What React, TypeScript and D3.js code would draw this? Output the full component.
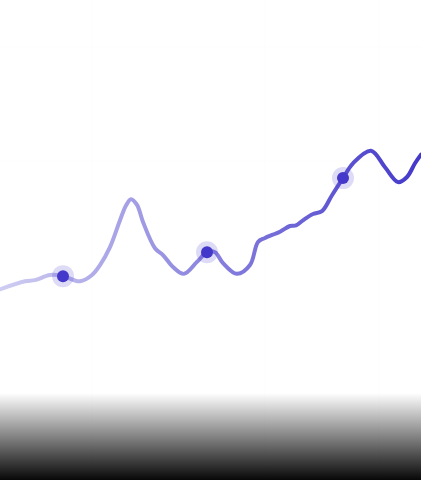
import { useMemo } from "react";
import * as d3 from "d3";

const WIDTH = 421;
const HEIGHT = 480;

// x in time units, y in value units
const times = [
  0, 2.5, 3.5, 5.0, 6.3, 8.0, 9.2, 10.0, 11.0, 12.0, 12.6, 13.1, 13.7, 14.3,
  15.5, 16.3, 17.3, 18.4, 19.7, 20.7, 21.5, 22.3, 23.7, 25.0, 25.8, 26.5,
  28.0, 29.0, 29.6, 30.3, 31.3, 32.2, 33.2, 34.3, 35.3, 37.1, 38.5, 39.8,
  40.7, 41.5, 42.1,
];
const values = [
  57.5, 58.9, 59.1, 60.0, 59.8, 58.9, 60.0, 61.75, 64.9, 69.6, 72.2, 73.3,
  72.3, 69.3, 64.7, 63.5, 61.4, 60.2, 62.3, 64.0, 64.0, 62.1, 60.2, 61.75,
  65.8, 66.5, 67.6, 68.6, 68.7, 69.6, 70.7, 71.2, 74.0, 77.0, 79.6, 81.8,
  78.9, 76.3, 77.2, 79.6, 81.1,
];
// highlighted points (indices into the series)
const highlighted = [4, 19, 33];

const gridTimes = [9.2, 26.5, 37.9];
const gridValues = [100, 80];

const COLOR = "#4338ca";

export default function App() {
  const data = times.map((t, i) => ({ t, v: values[i] }));

  const xScale = useMemo(
    () => d3.scaleLinear().domain([0, 42.1]).range([0, WIDTH]),
    []
  );
  const yScale = useMemo(
    () => d3.scaleLinear().domain([40, 100]).range([389, 47]),
    []
  );

  const line = d3
    .line<{ t: number; v: number }>()
    .x((d) => xScale(d.t))
    .y((d) => yScale(d.v))
    .curve(d3.curveCatmullRom.alpha(0.5));

  return (
    <svg
      width={WIDTH}
      height={HEIGHT}
      style={{ position: "absolute", left: 0, top: 0, background: "#fff" }}
    >
      <defs>
        <linearGradient id="lineGrad" x1="0" y1="0" x2={WIDTH} y2="0" gradientUnits="userSpaceOnUse">
          <stop offset="0" stopColor={COLOR} stopOpacity={0.25} />
          <stop offset="1" stopColor={COLOR} stopOpacity={1} />
        </linearGradient>
        <linearGradient id="fade" x1="0" y1="0" x2="0" y2="1">
          <stop offset="0" stopColor="#000" stopOpacity={0} />
          <stop offset="1" stopColor="#000" stopOpacity={0.97} />
        </linearGradient>
      </defs>

      {/* very faint grid */}
      <g stroke="#000" strokeOpacity={0.012} strokeWidth={1}>
        {gridTimes.map((t) => (
          <line key={"x" + t} x1={xScale(t)} x2={xScale(t)} y1={0} y2={HEIGHT} />
        ))}
        {gridValues.map((v) => (
          <line key={"y" + v} x1={0} x2={WIDTH} y1={yScale(v)} y2={yScale(v)} />
        ))}
      </g>

      <path
        d={line(data) || ""}
        fill="none"
        stroke="url(#lineGrad)"
        strokeWidth={4}
        strokeLinecap="round"
        strokeLinejoin="round"
      />

      {highlighted.map((i) => (
        <g key={i}>
          <circle cx={xScale(data[i].t)} cy={yScale(data[i].v)} r={11} fill={COLOR} fillOpacity={0.18} />
          <circle cx={xScale(data[i].t)} cy={yScale(data[i].v)} r={6} fill={COLOR} />
        </g>
      ))}

      <rect x={0} y={393} width={WIDTH} height={HEIGHT - 393} fill="url(#fade)" />
    </svg>
  );
}
